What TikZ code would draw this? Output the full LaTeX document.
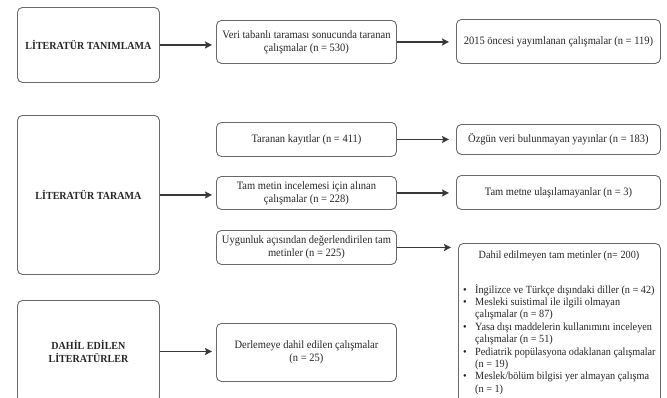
\documentclass[tikz,border=0pt]{standalone}
\usepackage{fontspec}
\setmainfont{Liberation Serif}[FakeStretch=0.93]
\usetikzlibrary{arrows.meta}
\definecolor{boxgray}{HTML}{6A6A6A}
\definecolor{arrgray}{HTML}{383838}
\definecolor{txt}{HTML}{262626}
\begin{document}
\begin{tikzpicture}[x=1pt,y=-1pt,
  box/.style={draw=boxgray, line width=0.9pt, rounded corners=5pt, inner sep=0pt,
    align=center, anchor=north west, text=txt, font=\fontsize{11.3}{13}\selectfont},
  lbox/.style={box, font=\fontsize{10.8}{13}\selectfont\bfseries},
  plain/.style={text=txt, inner sep=0pt, font=\fontsize{11}{12.4}\selectfont},
  arr/.style={draw=arrgray, line width=1.7pt, -{Stealth[length=7pt,width=7pt,inset=1.2pt]}, shorten >=7pt},
  larr/.style={arr, shorten >=4pt}
]
\path[use as bounding box, clip] (0,0) rectangle (667,397);
\fill[white] (0,0) rectangle (667,397);

% left column
\node[lbox, minimum width=142pt, minimum height=75pt] (l1) at (17,7) {LİTERATÜR TANIMLAMA};
\node[lbox, minimum width=142pt, minimum height=159pt] (l2) at (17,115) {LİTERATÜR TARAMA};
\node[lbox, minimum width=142pt, minimum height=102pt] (l3) at (17,300) {DAHİL EDİLEN\\LİTERATÜRLER};

% middle column
\node[box, minimum width=180pt, minimum height=43pt] (m1) at (216,20) {Veri tabanlı taraması sonucunda taranan\\çalışmalar (n = 530)};
\node[box, minimum width=180pt, minimum height=34pt] (m2) at (216,122) {Taranan kayıtlar (n = 411)};
\node[box, minimum width=180pt, minimum height=33pt] (m3) at (216,176) {Tam metin incelemesi için alınan\\çalışmalar (n = 228)};
\node[box, minimum width=180pt, minimum height=34pt] (m4) at (216,230) {Uygunluk açısından değerlendirilen tam\\metinler (n = 225)};
\node[box, minimum width=180pt, minimum height=58pt] (m5) at (216,323) {Derlemeye dahil edilen çalışmalar\\(n = 25)};

% right column
\node[box, minimum width=204pt, minimum height=44pt] (r1) at (456,19) {2015 öncesi yayımlanan çalışmalar (n = 119)};
\node[box, minimum width=204pt, minimum height=30pt] (r2) at (456,124) {Özgün veri bulunmayan yayınlar (n = 183)};
\node[box, minimum width=204pt, minimum height=34pt] (r3) at (456,175) {Tam metne ulaşılamayanlar (n = 3)};
\node[box, minimum width=202pt, minimum height=170pt] (r4) at (458,243) {};
\node[plain, anchor=base] (r4h) at (559,258) {Dahil edilmeyen tam metinler (n= 200)};
\node[plain, anchor=base west] (r4l) at (463,293) {\begin{tabular}[t]{@{}l@{}l@{}}
\makebox[12pt][l]{•} & İngilizce ve Türkçe dışındaki diller (n = 42)\\
\makebox[12pt][l]{•} & Mesleki suistimal ile ilgili olmayan\\
 & çalışmalar (n = 87)\\
\makebox[12pt][l]{•} & Yasa dışı maddelerin kullanımını inceleyen\\
 & çalışmalar (n = 51)\\
\makebox[12pt][l]{•} & Pediatrik popülasyona odaklanan çalışmalar\\
 & (n = 19)\\
\makebox[12pt][l]{•} & Meslek/bölüm bilgisi yer almayan çalışma\\
 & (n = 1)
\end{tabular}};

% connectors
\draw[larr] (l1.east) -- (l1.east -| m1.west);
\draw[larr] (l2.east) -- (l2.east -| m3.west);
\draw[larr] (l3.east) -- (l3.east -| m5.west);
\draw[arr] (m1.east) -- (m1.east -| r1.west);
\draw[arr] (m2.east) -- (m2.east -| r2.west);
\draw[arr] (m3.east) -- (m3.east -| r3.west);
\draw[arr] (m4.east) -- (m4.east -| r4.west);
\end{tikzpicture}
\end{document}
